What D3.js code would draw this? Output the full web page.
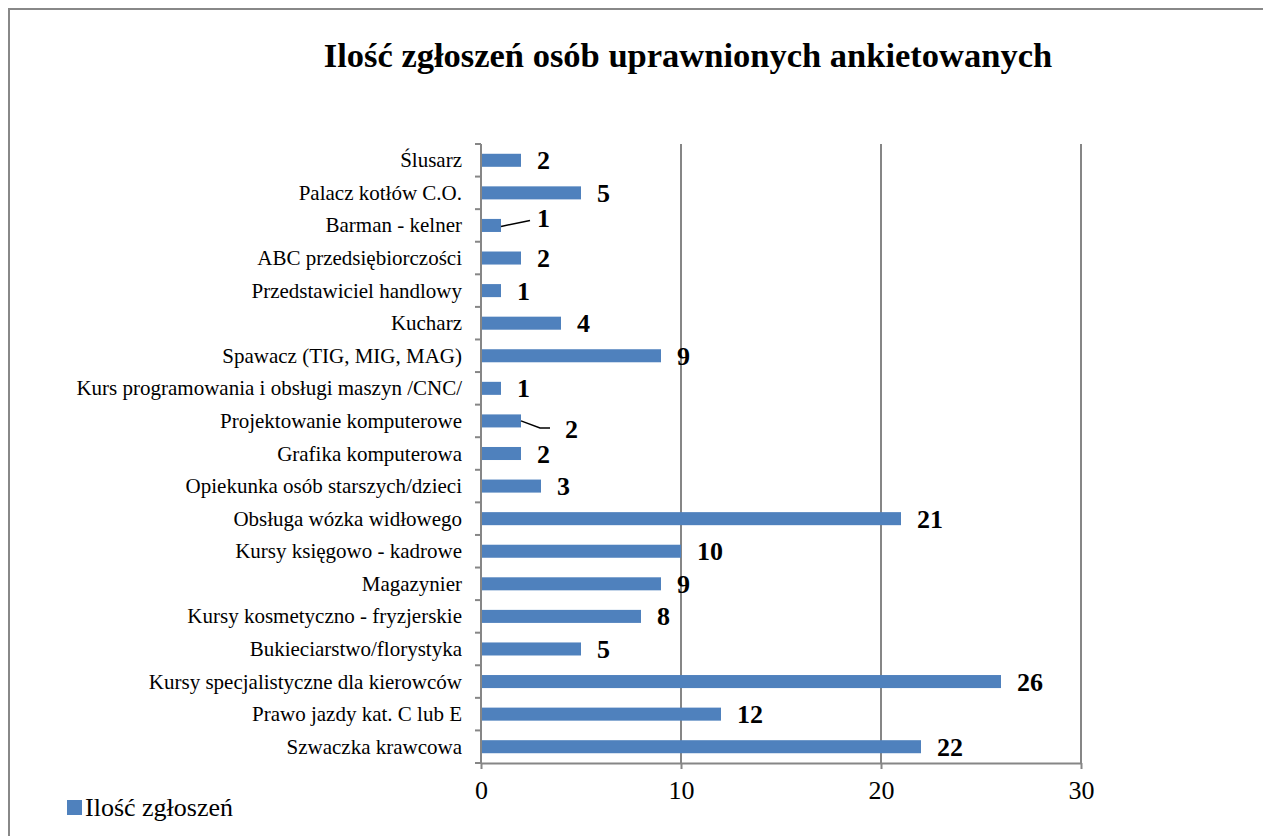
<!DOCTYPE html>
<html>
<head>
<meta charset="utf-8">
<script src="https://cdn.jsdelivr.net/npm/d3@7"></script>
<style>
  body { margin: 0; background: #fff; overflow: hidden; }
  svg { display: block; }
  text { font-family: "Liberation Serif", "Times New Roman", serif; }
</style>
</head>
<body>
<div id="chart"></div>
<script>
var categories = ["Ślusarz", "Palacz kotłów C.O.", "Barman - kelner", "ABC przedsiębiorczości",
  "Przedstawiciel handlowy", "Kucharz", "Spawacz (TIG, MIG, MAG)",
  "Kurs programowania i obsługi maszyn /CNC/", "Projektowanie komputerowe",
  "Grafika komputerowa", "Opiekunka osób starszych/dzieci", "Obsługa wózka widłowego",
  "Kursy księgowo - kadrowe", "Magazynier", "Kursy kosmetyczno - fryzjerskie",
  "Bukieciarstwo/florystyka", "Kursy specjalistyczne dla kierowców",
  "Prawo jazdy kat. C lub E", "Szwaczka krawcowa"];
var values = [2, 5, 1, 2, 1, 4, 9, 1, 2, 2, 3, 21, 10, 9, 8, 5, 26, 12, 22];
var xTicks = [0, 10, 20, 30];
var seriesName = "Ilość zgłoszeń";
var title = "Ilość zgłoszeń osób uprawnionych ankietowanych";

var W = 1263, H = 836;
var plotLeft = 481, plotRight = 1081, plotTop = 144, plotBottom = 763;
var barColor = "#4F81BD", axisColor = "#868686";

var svg = d3.select("#chart").append("svg")
  .attr("width", W).attr("height", H);

// outer chart border: only top and left edges are inside the picture
svg.append("path")
  .attr("d", d3.line()([[9, H], [9, 9], [W, 9]]))
  .attr("fill", "none").attr("stroke", "#888").attr("stroke-width", 2);

svg.append("text")
  .attr("x", 688).attr("y", 67)
  .attr("text-anchor", "middle")
  .style("font-size", "34.5px").style("font-weight", "bold")
  .text(title);

var xScale = d3.scaleLinear().domain([0, 30]).range([plotLeft, plotRight]);
var yScale = d3.scaleBand().domain(categories).range([plotTop, plotBottom]).paddingInner(0.6).paddingOuter(0.3);

// grid lines
svg.append("g").selectAll("line.grid")
  .data(xTicks.slice(1))
  .enter().append("line")
  .attr("x1", function(d) { return xScale(d); })
  .attr("x2", function(d) { return xScale(d); })
  .attr("y1", plotTop).attr("y2", plotBottom)
  .attr("stroke", axisColor).attr("stroke-width", 2);

// x axis
var xAxis = d3.axisBottom(xScale).tickValues(xTicks).tickSize(6).tickSizeOuter(0).tickPadding(12);
var gx = svg.append("g").attr("transform", "translate(0," + plotBottom + ")").call(xAxis);
gx.select(".domain").attr("stroke", axisColor).attr("stroke-width", 2);
gx.selectAll(".tick line").attr("stroke", axisColor).attr("stroke-width", 2);
gx.selectAll(".tick text").attr("fill", "#000")
  .style("font-size", "26px").style("font-family", "Liberation Serif, serif");

// y axis: line with ticks at band boundaries
var band = (plotBottom - plotTop) / categories.length;
var gy = svg.append("g");
gy.append("line").attr("x1", plotLeft).attr("x2", plotLeft).attr("y1", plotTop).attr("y2", plotBottom)
  .attr("stroke", axisColor).attr("stroke-width", 2);
gy.selectAll("line.tk")
  .data(d3.range(categories.length + 1))
  .enter().append("line")
  .attr("x1", plotLeft - 6).attr("x2", plotLeft)
  .attr("y1", function(i) { return plotTop + i * band; })
  .attr("y2", function(i) { return plotTop + i * band; })
  .attr("stroke", axisColor).attr("stroke-width", 2);

gy.selectAll("text.cat")
  .data(categories)
  .enter().append("text")
  .attr("x", 462)
  .attr("y", function(d) { return yScale(d) + yScale.bandwidth() / 2 + 7; })
  .attr("text-anchor", "end")
  .style("font-size", "21px")
  .text(function(d) { return d; });

// bars
svg.selectAll("rect.bar")
  .data(values)
  .enter().append("rect")
  .attr("class", "bar")
  .attr("x", xScale(0) + 1)
  .attr("y", function(d, i) { return yScale(categories[i]); })
  .attr("width", function(d) { return xScale(d) - xScale(0) - 1; })
  .attr("height", yScale.bandwidth())
  .attr("fill", barColor);

// data labels; two are moved with a leader line
var moved = { 2: [20, -7], 8: [28, 8] };
svg.selectAll("text.lbl")
  .data(values)
  .enter().append("text")
  .attr("x", function(d, i) { return xScale(d) + 16 + (moved[i] ? moved[i][0] : 0); })
  .attr("y", function(d, i) { return yScale(categories[i]) + yScale.bandwidth() / 2 + 9 + (moved[i] ? moved[i][1] : 0); })
  .style("font-size", "26px").style("font-weight", "bold")
  .text(function(d) { return d; });

Object.keys(moved).forEach(function(k) {
  var i = +k, d = values[i];
  var x0 = xScale(d), y0 = yScale(categories[i]) + yScale.bandwidth() / 2;
  var pts = i === 2
    ? [[x0, y0 + 1], [x0 + 29, y0 - 5]]
    : [[x0, y0], [x0 + 19, y0 + 7], [x0 + 29, y0 + 7]];
  svg.append("path")
    .attr("d", d3.line()(pts))
    .attr("fill", "none").attr("stroke", "#000").attr("stroke-width", 1.5);
});

// legend
svg.append("rect").attr("x", 67).attr("y", 800).attr("width", 15).attr("height", 15).attr("fill", barColor);
svg.append("text").attr("x", 85).attr("y", 816)
  .style("font-size", "26px").text(seriesName);
</script>
</body>
</html>
